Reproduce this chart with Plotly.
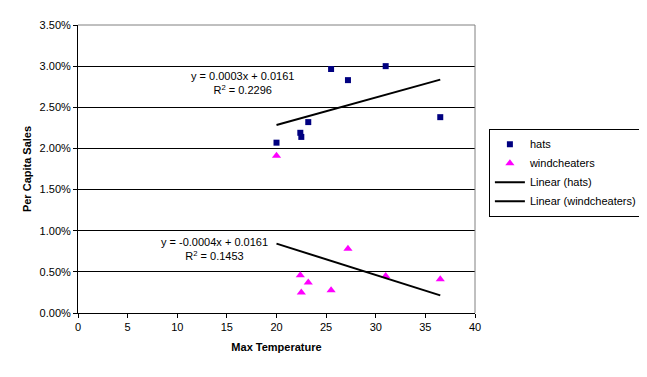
import numpy as np
import plotly.graph_objects as go

# Data (per capita sales as fractions)
max_temp = [20.0, 22.4, 22.5, 23.2, 25.5, 27.2, 31.0, 36.5]
hats = [0.0207, 0.0219, 0.0214, 0.0232, 0.02965, 0.0283, 0.0300, 0.0238]
windcheaters = [0.0191, 0.00458, 0.0025, 0.0037, 0.00276, 0.0078, 0.0045, 0.0041]

hats_eq = "y = 0.0003x + 0.0161<br>R<sup>2</sup> = 0.2296"
wind_eq = "y = -0.0004x + 0.0161<br>R<sup>2</sup> = 0.1453"

x_ticks = [0, 5, 10, 15, 20, 25, 30, 35, 40]
y_ticks = [0, 0.005, 0.01, 0.015, 0.02, 0.025, 0.03, 0.035]

x = np.array(max_temp)
xr = np.array([x.min(), x.max()])
ph = np.polyfit(x, np.array(hats), 1)
pw = np.polyfit(x, np.array(windcheaters), 1)

FONT = "Liberation Sans, Arial, sans-serif"

fig = go.Figure()
fig.add_trace(go.Scatter(x=max_temp, y=hats, mode="markers", name="hats",
                         marker=dict(symbol="square", size=6, color="#000080")))
fig.add_trace(go.Scatter(x=max_temp, y=windcheaters, mode="markers", name="windcheaters",
                         marker=dict(symbol="triangle-up", size=8, color="#FF00FF")))
fig.add_trace(go.Scatter(x=xr, y=np.polyval(ph, xr), mode="lines", name="Linear (hats)",
                         line=dict(color="black", width=2)))
fig.add_trace(go.Scatter(x=xr, y=np.polyval(pw, xr), mode="lines", name="Linear (windcheaters)",
                         line=dict(color="black", width=2)))

fig.add_annotation(x=16.6, y=0.02795, xref="x", yref="y", text=hats_eq, showarrow=False,
                   align="center", font=dict(size=11, color="black", family=FONT))
fig.add_annotation(x=13.8, y=0.00778, xref="x", yref="y", text=wind_eq, showarrow=False,
                   align="center", font=dict(size=11, color="black", family=FONT))

# gray top/right plot-area border
fig.add_shape(type="line", xref="paper", yref="paper", x0=0, x1=1, y0=1, y1=1,
              line=dict(color="#808080", width=1), layer="above")
fig.add_shape(type="line", xref="paper", yref="paper", x0=1, x1=1, y0=0, y1=1,
              line=dict(color="#808080", width=1), layer="above")

# the page body adds an 8px offset, so margins are shifted accordingly
fig.update_layout(
    width=647, height=377,
    margin=dict(l=70, r=180, t=17, b=72, autoexpand=False),
    paper_bgcolor="white", plot_bgcolor="white",
    font=dict(family=FONT, size=11, color="black"),
    showlegend=True,
    legend=dict(x=1.035, y=0.64, xanchor="left", yanchor="top",
                bordercolor="black", borderwidth=1, itemwidth=30,
                font=dict(size=11, family=FONT, color="black"), bgcolor="white"),
    xaxis=dict(range=[0, 40], tickvals=x_ticks, ticks="outside", ticklen=4,
               tickcolor="black", showline=True, linecolor="black", linewidth=1,
               showgrid=False, zeroline=False, automargin=False,
               title=dict(text="<b>Max Temperature</b>", font=dict(size=11), standoff=11)),
    yaxis=dict(range=[0, 0.035], tickvals=y_ticks, tickformat=".2%", ticks="outside",
               ticklen=4, tickcolor="black", showline=True, linecolor="black", linewidth=1,
               showgrid=True, gridcolor="black", gridwidth=1, zeroline=False, automargin=False,
               title=dict(text="<b>Per Capita Sales</b>", font=dict(size=11), standoff=5)),
)

fig.write_html("out.html")
